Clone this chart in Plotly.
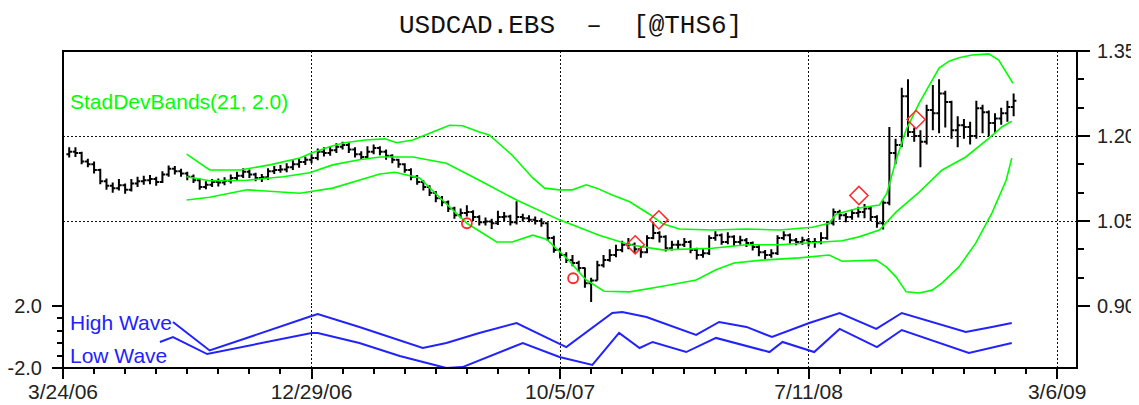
import plotly.graph_objects as go

# ---------------- data ----------------
bar_index = list(range(1, 154))
first_open = 1.168
closes = [
    1.172, 1.170, 1.155, 1.150, 1.140, 1.120, 1.112, 1.108, 1.113, 1.105,
    1.116, 1.120, 1.122, 1.124, 1.119, 1.132, 1.142, 1.138, 1.134, 1.128,
    1.122, 1.110, 1.114, 1.119, 1.118, 1.121, 1.126, 1.130, 1.137, 1.132,
    1.126, 1.127, 1.138, 1.140, 1.141, 1.145, 1.150, 1.154, 1.158, 1.161,
    1.172, 1.170, 1.175, 1.181, 1.184, 1.176, 1.168, 1.163, 1.172, 1.179,
    1.172, 1.165, 1.158, 1.150, 1.140, 1.128, 1.119, 1.110, 1.100, 1.090,
    1.083, 1.072, 1.060, 1.064, 1.066, 1.057, 1.048, 1.049, 1.046, 1.057,
    1.058, 1.048, 1.057, 1.055, 1.052, 1.050, 1.046, 1.020, 0.999, 0.990,
    0.981, 0.976, 0.967, 0.940, 0.945, 0.972, 0.981, 0.990, 0.999, 1.008,
    1.008, 1.000, 0.995, 1.020, 1.029, 1.022, 1.002, 1.008, 1.008, 1.013,
    0.999, 0.990, 0.993, 1.020, 1.025, 1.013, 1.022, 1.013, 1.016, 1.011,
    1.004, 0.995, 0.990, 0.993, 1.020, 1.025, 1.016, 1.013, 1.016, 1.013,
    1.013, 1.020, 1.046, 1.066, 1.060, 1.057, 1.064, 1.066, 1.072, 1.057,
    1.046, 1.082, 1.170, 1.184, 1.270, 1.207, 1.200, 1.190, 1.246, 1.240,
    1.275, 1.260, 1.210, 1.219, 1.216, 1.200, 1.249, 1.242, 1.223, 1.231,
    1.240, 1.251, 1.262]
highs = [
    1.180, 1.180, 1.172, 1.160, 1.155, 1.142, 1.125, 1.118, 1.124, 1.116,
    1.124, 1.128, 1.130, 1.131, 1.128, 1.138, 1.148, 1.147, 1.142, 1.137,
    1.132, 1.125, 1.120, 1.124, 1.125, 1.127, 1.132, 1.137, 1.143, 1.141,
    1.135, 1.133, 1.143, 1.147, 1.149, 1.152, 1.157, 1.160, 1.164, 1.168,
    1.178, 1.180, 1.182, 1.187, 1.190, 1.188, 1.180, 1.173, 1.182, 1.185,
    1.182, 1.176, 1.168, 1.160, 1.152, 1.143, 1.131, 1.122, 1.113, 1.103,
    1.094, 1.086, 1.075, 1.072, 1.078, 1.069, 1.060, 1.056, 1.054, 1.068,
    1.066, 1.061, 1.085, 1.063, 1.060, 1.058, 1.055, 1.048, 1.024, 1.003,
    0.995, 0.990, 0.980, 0.968, 0.950, 0.980, 0.990, 1.000, 1.008, 1.015,
    1.020, 1.012, 1.005, 1.025, 1.048, 1.032, 1.025, 1.015, 1.016, 1.020,
    1.016, 1.003, 1.000, 1.025, 1.032, 1.028, 1.030, 1.025, 1.024, 1.020,
    1.014, 1.007, 0.999, 1.000, 1.025, 1.032, 1.028, 1.020, 1.022, 1.020,
    1.020, 1.030, 1.050, 1.072, 1.070, 1.064, 1.071, 1.075, 1.080, 1.076,
    1.060, 1.086, 1.216, 1.195, 1.285, 1.300, 1.215, 1.210, 1.255, 1.290,
    1.300, 1.280, 1.262, 1.235, 1.230, 1.225, 1.262, 1.255, 1.245, 1.240,
    1.250, 1.262, 1.275]
lows = [
    1.162, 1.163, 1.150, 1.145, 1.134, 1.115, 1.105, 1.100, 1.104, 1.098,
    1.102, 1.110, 1.114, 1.115, 1.112, 1.117, 1.128, 1.132, 1.128, 1.122,
    1.117, 1.105, 1.106, 1.110, 1.111, 1.113, 1.116, 1.121, 1.126, 1.126,
    1.120, 1.119, 1.123, 1.133, 1.135, 1.136, 1.140, 1.144, 1.149, 1.152,
    1.157, 1.164, 1.165, 1.170, 1.176, 1.170, 1.162, 1.158, 1.160, 1.168,
    1.166, 1.158, 1.152, 1.144, 1.135, 1.122, 1.114, 1.104, 1.094, 1.083,
    1.076, 1.066, 1.054, 1.055, 1.058, 1.050, 1.042, 1.042, 1.036, 1.043,
    1.050, 1.042, 1.044, 1.049, 1.048, 1.044, 1.040, 1.015, 0.994, 0.984,
    0.976, 0.970, 0.960, 0.932, 0.907, 0.945, 0.968, 0.978, 0.986, 0.995,
    1.000, 0.993, 0.985, 0.993, 1.018, 1.012, 0.996, 0.998, 1.000, 1.004,
    0.993, 0.982, 0.985, 0.990, 1.015, 1.008, 1.009, 1.006, 1.008, 1.004,
    0.998, 0.988, 0.982, 0.985, 0.990, 1.016, 1.010, 1.007, 1.008, 1.005,
    1.003, 1.009, 1.017, 1.042, 1.052, 1.048, 1.052, 1.056, 1.055, 1.050,
    1.038, 1.035, 1.078, 1.150, 1.180, 1.200, 1.190, 1.145, 1.185, 1.210,
    1.205, 1.215, 1.195, 1.180, 1.195, 1.185, 1.195, 1.205, 1.200, 1.205,
    1.220, 1.225, 1.235]
opens = [first_open] + closes[:-1]

upper_x = [19.9, 23.6, 28.5, 33.3, 38.1, 40, 42.9, 45.3, 48.6, 51.8, 53.7, 56.3,
           59, 62.2, 64.3, 67, 68.6, 72.3, 75.6, 77.5, 79.9, 82, 84.2, 85.9, 88.4,
           91.2, 94.4, 96.5, 99.2, 104.5, 110, 115.3, 120.6, 123.3, 124.4, 128.1,
           131.4, 132.6, 134.1, 135.7, 137.8, 139.4, 141, 142.6, 144.2, 146.3,
           149, 150.6, 152.3, 152.9]
upper_y = [1.168, 1.140, 1.140, 1.149, 1.161, 1.170, 1.181, 1.188, 1.193, 1.195,
           1.188, 1.193, 1.205, 1.219, 1.218, 1.207, 1.202, 1.166, 1.126, 1.108,
           1.105, 1.105, 1.114, 1.108, 1.096, 1.084, 1.062, 1.045, 1.036, 1.034,
           1.036, 1.034, 1.039, 1.046, 1.062, 1.073, 1.078, 1.099, 1.158, 1.211,
           1.258, 1.290, 1.320, 1.332, 1.338, 1.343, 1.345, 1.334, 1.304, 1.293]
mid_x = [19.9, 23.6, 29.6, 35.4, 39.7, 43.4, 47.7, 51, 56.3, 61.7, 67, 73, 79.9,
         86.3, 91.2, 96.5, 104.5, 110, 115.3, 120.6, 125.4, 128.1, 131.4, 134.1,
         137.8, 141.5, 145.3, 149, 151.1, 152.7]
mid_y = [1.128, 1.121, 1.122, 1.128, 1.135, 1.149, 1.158, 1.163, 1.163, 1.152,
         1.122, 1.087, 1.052, 1.025, 1.008, 0.999, 1.002, 1.008, 1.008, 1.011,
         1.015, 1.022, 1.034, 1.066, 1.101, 1.140, 1.163, 1.196, 1.216, 1.226]
lower_x = [19.9, 23.6, 29.6, 38.1, 43.4, 47.7, 51, 53.4, 57.4, 60.6, 65, 69.8,
           72.3, 75.6, 77.8, 81, 84.2, 87.1, 91.2, 96.5, 101.9, 105.1, 108, 112.5,
           118.5, 123.3, 125.4, 130.9, 132.5, 134.1, 135.7, 137.8, 139.9, 141.5,
           144.2, 146.9, 149.5, 151.8, 152.7]
lower_y = [1.087, 1.092, 1.105, 1.099, 1.108, 1.122, 1.133, 1.136, 1.126, 1.092,
           1.046, 1.013, 1.013, 1.025, 1.018, 0.985, 0.946, 0.926, 0.925, 0.935,
           0.946, 0.964, 0.976, 0.981, 0.985, 0.990, 0.979, 0.981, 0.969, 0.951,
           0.925, 0.923, 0.928, 0.941, 0.969, 1.011, 1.064, 1.122, 1.161]

diamond_x = [92.1, 95.9, 128.1, 137.3]
diamond_y = [1.008, 1.052, 1.095, 1.229]
circle_x = [65.0, 82.1]
circle_y = [1.046, 0.949]

high_wave_x = [17.7, 23.6, 40, 41, 47.7, 54.2, 57.9, 61.7, 67, 73, 81, 88.4, 90,
               93.9, 101.9, 105.6, 110, 114.1, 120.1, 125, 130.9, 135, 139.9,
               145.3, 149.5, 152.7]
high_wave = [0.97, -0.87, 1.35, 1.48, 0.65, -0.19, -0.71, -0.39, 0.26, 0.9, -0.65,
             1.55, 1.61, 1.29, 0.13, 0.97, 0.65, 0.0, 0.9, 1.55, 0.52, 1.55, 0.97,
             0.32, 0.65, 0.9]
low_wave_x = [15.6, 17.7, 23.2, 40, 41, 47.7, 54.2, 61.7, 64.3, 74, 79.9, 85.2,
              89.5, 92.8, 94.9, 100.3, 105.1, 113.7, 115.8, 120.9, 125, 131, 135,
              145.8, 152.7]
low_wave = [-0.32, 0.0, -1.1, 0.26, 0.26, -0.39, -1.23, -2.0, -1.94, -0.39, -1.29,
            -1.8, 0.26, -0.71, -0.32, -0.97, -0.06, -0.97, -0.32, -0.97, 0.52,
            -0.65, 0.45, -1.03, -0.39]

date_ticks = [0, 40, 80, 120, 160]
date_labels = ["3/24/06", "12/29/06", "10/5/07", "7/11/08", "3/6/09"]
price_ticks = [0.90, 1.05, 1.20, 1.35]
price_labels = ["0.90", "1.05", "1.20", "1.35"]
wave_ticks = [-2.0, 2.0]
wave_labels = ["-2.0", "2.0"]

# ---------------- figure ----------------
GREEN = "#00ff00"
BLUE = "#2222ff"
RED = "#ff2a2a"
SANS = "Liberation Sans, Arial, sans-serif"

fig = go.Figure()

fig.add_trace(go.Ohlc(
    x=bar_index, open=opens, high=highs, low=lows, close=closes,
    increasing=dict(line=dict(color="black", width=2)),
    decreasing=dict(line=dict(color="black", width=2)),
    tickwidth=0.45, xaxis="x", yaxis="y", hoverinfo="skip", showlegend=False))

for bx, by in [(upper_x, upper_y), (mid_x, mid_y), (lower_x, lower_y)]:
    fig.add_trace(go.Scatter(x=bx, y=by, mode="lines", xaxis="x", yaxis="y",
                             line=dict(color=GREEN, width=1.6), hoverinfo="skip",
                             showlegend=False))

fig.add_trace(go.Scatter(x=diamond_x, y=diamond_y, mode="markers", xaxis="x", yaxis="y",
                         marker=dict(symbol="diamond-open", size=14, color=RED,
                                     line=dict(width=1.5, color=RED)),
                         hoverinfo="skip", showlegend=False))
fig.add_trace(go.Scatter(x=circle_x, y=circle_y, mode="markers", xaxis="x", yaxis="y",
                         marker=dict(symbol="circle-open", size=10, color=RED,
                                     line=dict(width=1.8, color=RED)),
                         hoverinfo="skip", showlegend=False))

for wx, wy in [(high_wave_x, high_wave), (low_wave_x, low_wave)]:
    fig.add_trace(go.Scatter(x=wx, y=wy, mode="lines", xaxis="x", yaxis="y2",
                             line=dict(color=BLUE, width=2), hoverinfo="skip",
                             showlegend=False))

split = 62 / 317
grid = dict(showgrid=True, gridcolor="#111111", gridwidth=1.3, griddash="2px,2px")

# the page body has an 8px margin, so the figure is 8px smaller than the window
fig.update_layout(
    width=1131, height=397,
    margin=dict(l=55, r=62, t=43, b=37, autoexpand=False),
    paper_bgcolor="white", plot_bgcolor="white",
    showlegend=False,
    xaxis=dict(range=[0, 163.2], tickvals=date_ticks, ticktext=date_labels,
               ticks="outside", ticklen=10, tickwidth=1.5, tickcolor="black",
               minor=dict(dtick=5, tick0=0, ticks="outside", ticklen=5,
                          tickwidth=1.5, tickcolor="black", showgrid=False),
               anchor="y2", rangeslider=dict(visible=False), zeroline=False,
               showline=False, ticklabelstandoff=-5, automargin=False,
               tickfont=dict(family=SANS, size=21, color="#222222"), **grid),
    yaxis=dict(domain=[split, 1], range=[0.90, 1.35], side="right", anchor="x",
               tickvals=price_ticks, ticktext=price_labels,
               ticks="outside", ticklen=12, tickwidth=1.5, tickcolor="black",
               minor=dict(dtick=0.05, tick0=0.90, ticks="outside", ticklen=6,
                          tickwidth=1.5, tickcolor="black", showgrid=False),
               zeroline=False, showline=False, ticklabelstandoff=3, automargin=False,
               tickfont=dict(family=SANS, size=20, color="#222222"), **grid),
    yaxis2=dict(domain=[0, split], range=[-2, 2], side="left", anchor="x",
                tickvals=wave_ticks, ticktext=wave_labels,
                ticks="outside", ticklen=10, tickwidth=1.5, tickcolor="black",
                minor=dict(dtick=0.8, tick0=-2, ticks="outside", ticklen=5,
                           tickwidth=1.5, tickcolor="black", showgrid=False),
                zeroline=False, showline=False, ticklabelstandoff=6, automargin=False,
                tickfont=dict(family=SANS, size=20, color="#222222"), **grid),
    shapes=[dict(type="rect", xref="paper", yref="paper", x0=0, x1=1, y0=0, y1=1,
                 line=dict(color="black", width=2), layer="above")],
    annotations=[
        dict(text="USDCAD.EBS\u00a0\u00a0\u2013\u00a0\u00a0[@THS6]", xref="paper",
             yref="paper", x=0.5, y=(368 - 25.5) / 317, xanchor="center",
             yanchor="middle", showarrow=False,
             font=dict(family="Liberation Mono, monospace", size=26, color="#111111")),
        dict(text="StadDevBands(21, 2.0)", xref="paper", yref="paper",
             x=5 / 1014, y=(368 - 101) / 317, xanchor="left", yanchor="middle",
             showarrow=False, font=dict(family=SANS, size=21, color=GREEN)),
        dict(text="High Wave", xref="paper", yref="paper",
             x=5 / 1014, y=(368 - 322) / 317, xanchor="left", yanchor="middle",
             showarrow=False, font=dict(family=SANS, size=21, color=BLUE)),
        dict(text="Low Wave", xref="paper", yref="paper",
             x=5 / 1014, y=(368 - 355) / 317, xanchor="left", yanchor="middle",
             showarrow=False, font=dict(family=SANS, size=21, color=BLUE)),
    ],
)

fig.write_html("out.html")
